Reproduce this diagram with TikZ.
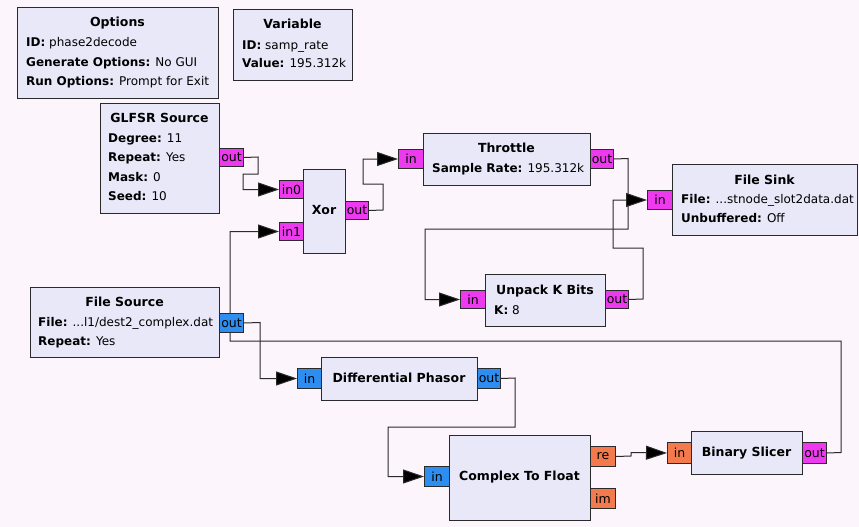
\documentclass[tikz,border=0pt]{standalone}
\usepackage{fontspec}
\setmainfont{DejaVu Sans}
\usetikzlibrary{arrows.meta}
\definecolor{bgcol}{HTML}{FCF5FC}
\definecolor{blockfill}{HTML}{E8E8F9}
\definecolor{edgecol}{HTML}{2A2A2A}
\definecolor{pmag}{HTML}{EE3AEE}
\definecolor{pblue}{HTML}{2D8DF0}
\definecolor{porange}{HTML}{F37A4D}
\tikzset{
  block/.style={draw=edgecol, fill=blockfill, line width=1.1pt, anchor=north west, inner sep=0pt},
  port/.style={draw=edgecol, line width=1pt, anchor=north west, inner sep=0pt, font=\fontsize{12.5}{14}\selectfont, text=black},
  magport/.style={port, fill=pmag},
  blueport/.style={port, fill=pblue},
  orport/.style={port, fill=porange},
  ttl/.style={anchor=mid, yshift=-1.5pt, font=\fontsize{12.5}{14}\selectfont\bfseries, text=black},
  prm/.style={anchor=mid west, yshift=-1.5pt, font=\fontsize{12}{14}\selectfont, text=black, inner sep=0pt},
  conn/.style={draw=edgecol, line width=1pt, -{Triangle[length=21pt,width=14pt,fill=black]}},
}
\begin{document}
\begin{tikzpicture}[x=1pt,y=-1pt]
\fill[bgcol] (0,0) rectangle (859,527);
\useasboundingbox (0,0) rectangle (859,527);

% Options
\node[block, minimum width=201pt, minimum height=91pt] (options) at (17,7) {};
\node[ttl] (optt) at (117.5,22) {Options};
\node[prm] (opt1) at (26,42) {\textbf{ID:} phase2decode};
\node[prm] (opt2) at (26,62) {\textbf{Generate Options:} No GUI};
\node[prm] (opt3) at (26,81) {\textbf{Run Options:} Prompt for Exit};

% Variable
\node[block, minimum width=119pt, minimum height=71pt] (variable) at (233,9) {};
\node[ttl] (vart) at (292.5,24) {Variable};
\node[prm] (var1) at (242,45) {\textbf{ID:} samp\_rate};
\node[prm] (var2) at (242,63) {\textbf{Value:} 195.312k};

% GLFSR Source
\node[block, minimum width=119pt, minimum height=110pt] (glfsr) at (100,103) {};
\node[ttl] (glt) at (159.5,118) {GLFSR Source};
\node[prm] (gl1) at (108,138) {\textbf{Degree:} 11};
\node[prm] (gl2) at (108,157) {\textbf{Repeat:} Yes};
\node[prm] (gl3) at (108,177) {\textbf{Mask:} 0};
\node[prm] (gl4) at (108,196) {\textbf{Seed:} 10};
\node[magport, minimum width=24pt, minimum height=18pt] (glfsr-out) at (219,148) {out};

% Xor
\node[block, minimum width=42pt, minimum height=84pt] (xor) at (303,169) {};
\node[ttl] (xort) at (324,210) {Xor};
\node[magport, minimum width=24pt, minimum height=18pt] (xor-in0) at (279,180) {in0};
\node[magport, minimum width=24pt, minimum height=18pt] (xor-in1) at (279,222) {in1};
\node[magport, minimum width=23pt, minimum height=18pt] (xor-out) at (345,201) {out};

% Throttle
\node[block, minimum width=167pt, minimum height=52pt] (throttle) at (423,133) {};
\node[ttl] (thrt) at (506.5,148) {Throttle};
\node[prm] (thr1) at (432,168) {\textbf{Sample Rate:} 195.312k};
\node[magport, minimum width=25pt, minimum height=19pt] (thr-in) at (398,149) {in};
\node[magport, minimum width=23pt, minimum height=19pt] (thr-out) at (590,149) {out};

% File Sink
\node[block, minimum width=185pt, minimum height=71pt] (sink) at (672,164) {};
\node[ttl] (sinkt) at (764.5,180) {File Sink};
\node[prm] (sink1) at (681,199) {\textbf{File:} ...stnode\_slot2data.dat};
\node[prm] (sink2) at (681,218) {\textbf{Unbuffered:} Off};
\node[magport, minimum width=25pt, minimum height=19pt] (sink-in) at (647,190) {in};

% Unpack K Bits
\node[block, minimum width=120pt, minimum height=52pt] (unpack) at (485,274) {};
\node[ttl] (unpt) at (545,290) {Unpack K Bits};
\node[prm] (unp1) at (494,310) {\textbf{K:} 8};
\node[magport, minimum width=25pt, minimum height=18pt] (unp-in) at (460,290) {in};
\node[magport, minimum width=23pt, minimum height=18pt] (unp-out) at (605,290) {out};

% File Source
\node[block, minimum width=189pt, minimum height=70pt] (fsrc) at (30,287) {};
\node[ttl] (fsrct) at (124.5,302) {File Source};
\node[prm] (fsrc1) at (38,322) {\textbf{File:} ...l1/dest2\_complex.dat};
\node[prm] (fsrc2) at (38,341) {\textbf{Repeat:} Yes};

% Differential Phasor
\node[block, minimum width=156pt, minimum height=43pt] (dphasor) at (321,357) {};
\node[ttl] (dpt) at (399,378.5) {Differential Phasor};
\node[blueport, minimum width=24pt, minimum height=20pt] (dp-in) at (297,368) {in};
\node[blueport, minimum width=23pt, minimum height=20pt] (dp-out) at (477,368) {out};

% Complex To Float
\node[block, minimum width=141pt, minimum height=85pt] (ctf) at (449,435) {};
\node[ttl] (ctft) at (519.5,476) {Complex To Float};
\node[blueport, minimum width=25pt, minimum height=20pt] (ctf-in) at (424,466) {in};
\node[orport, minimum width=25pt, minimum height=20pt] (ctf-re) at (590,446) {re};
\node[orport, minimum width=25pt, minimum height=20pt] (ctf-im) at (590,488) {im};

% Binary Slicer
\node[block, minimum width=111pt, minimum height=43pt] (slicer) at (691,431) {};
\node[ttl] (bst) at (746.5,452.5) {Binary Slicer};
\node[orport, minimum width=24pt, minimum height=21pt] (bs-in) at (667,442) {in};
\node[magport, minimum width=24pt, minimum height=21pt] (bs-out) at (802,442) {out};

% Connections
\draw[conn] (glfsr-out.east) -- (258,157) -- (258,174) -- (243,174) |- (xor-in0.west);
\draw[conn] (xor-out.east) -- (383,210) -- (383,184) -- (363,184) |- (thr-in.west);
\draw[conn] (thr-out.east) -- (628,158.5) -- (628,229) -- (425,229) |- (unp-in.west);
\draw[conn] (unp-out.east) -- (643,299) -- (643,248) -- (613,248) |- (sink-in.west);
\draw[conn] (bs-out.east) -- (841,452.5) -- (841,341) -- (230,341) |- (xor-in1.west);

% File Source output port drawn over the line passing beneath it
\node[blueport, minimum width=24pt, minimum height=19pt] (fsrc-out) at (219,313) {out};
\draw[conn] (fsrc-out.east) -- (260,322.5) |- (dp-in.west);
\draw[conn] (dp-out.east) -- (515,378) -- (515,427) -- (388,427) |- (ctf-in.west);
\draw[conn] (ctf-re.east) -- (631,456) -- (631,452.5) -- (bs-in.west);
\end{tikzpicture}
\end{document}
